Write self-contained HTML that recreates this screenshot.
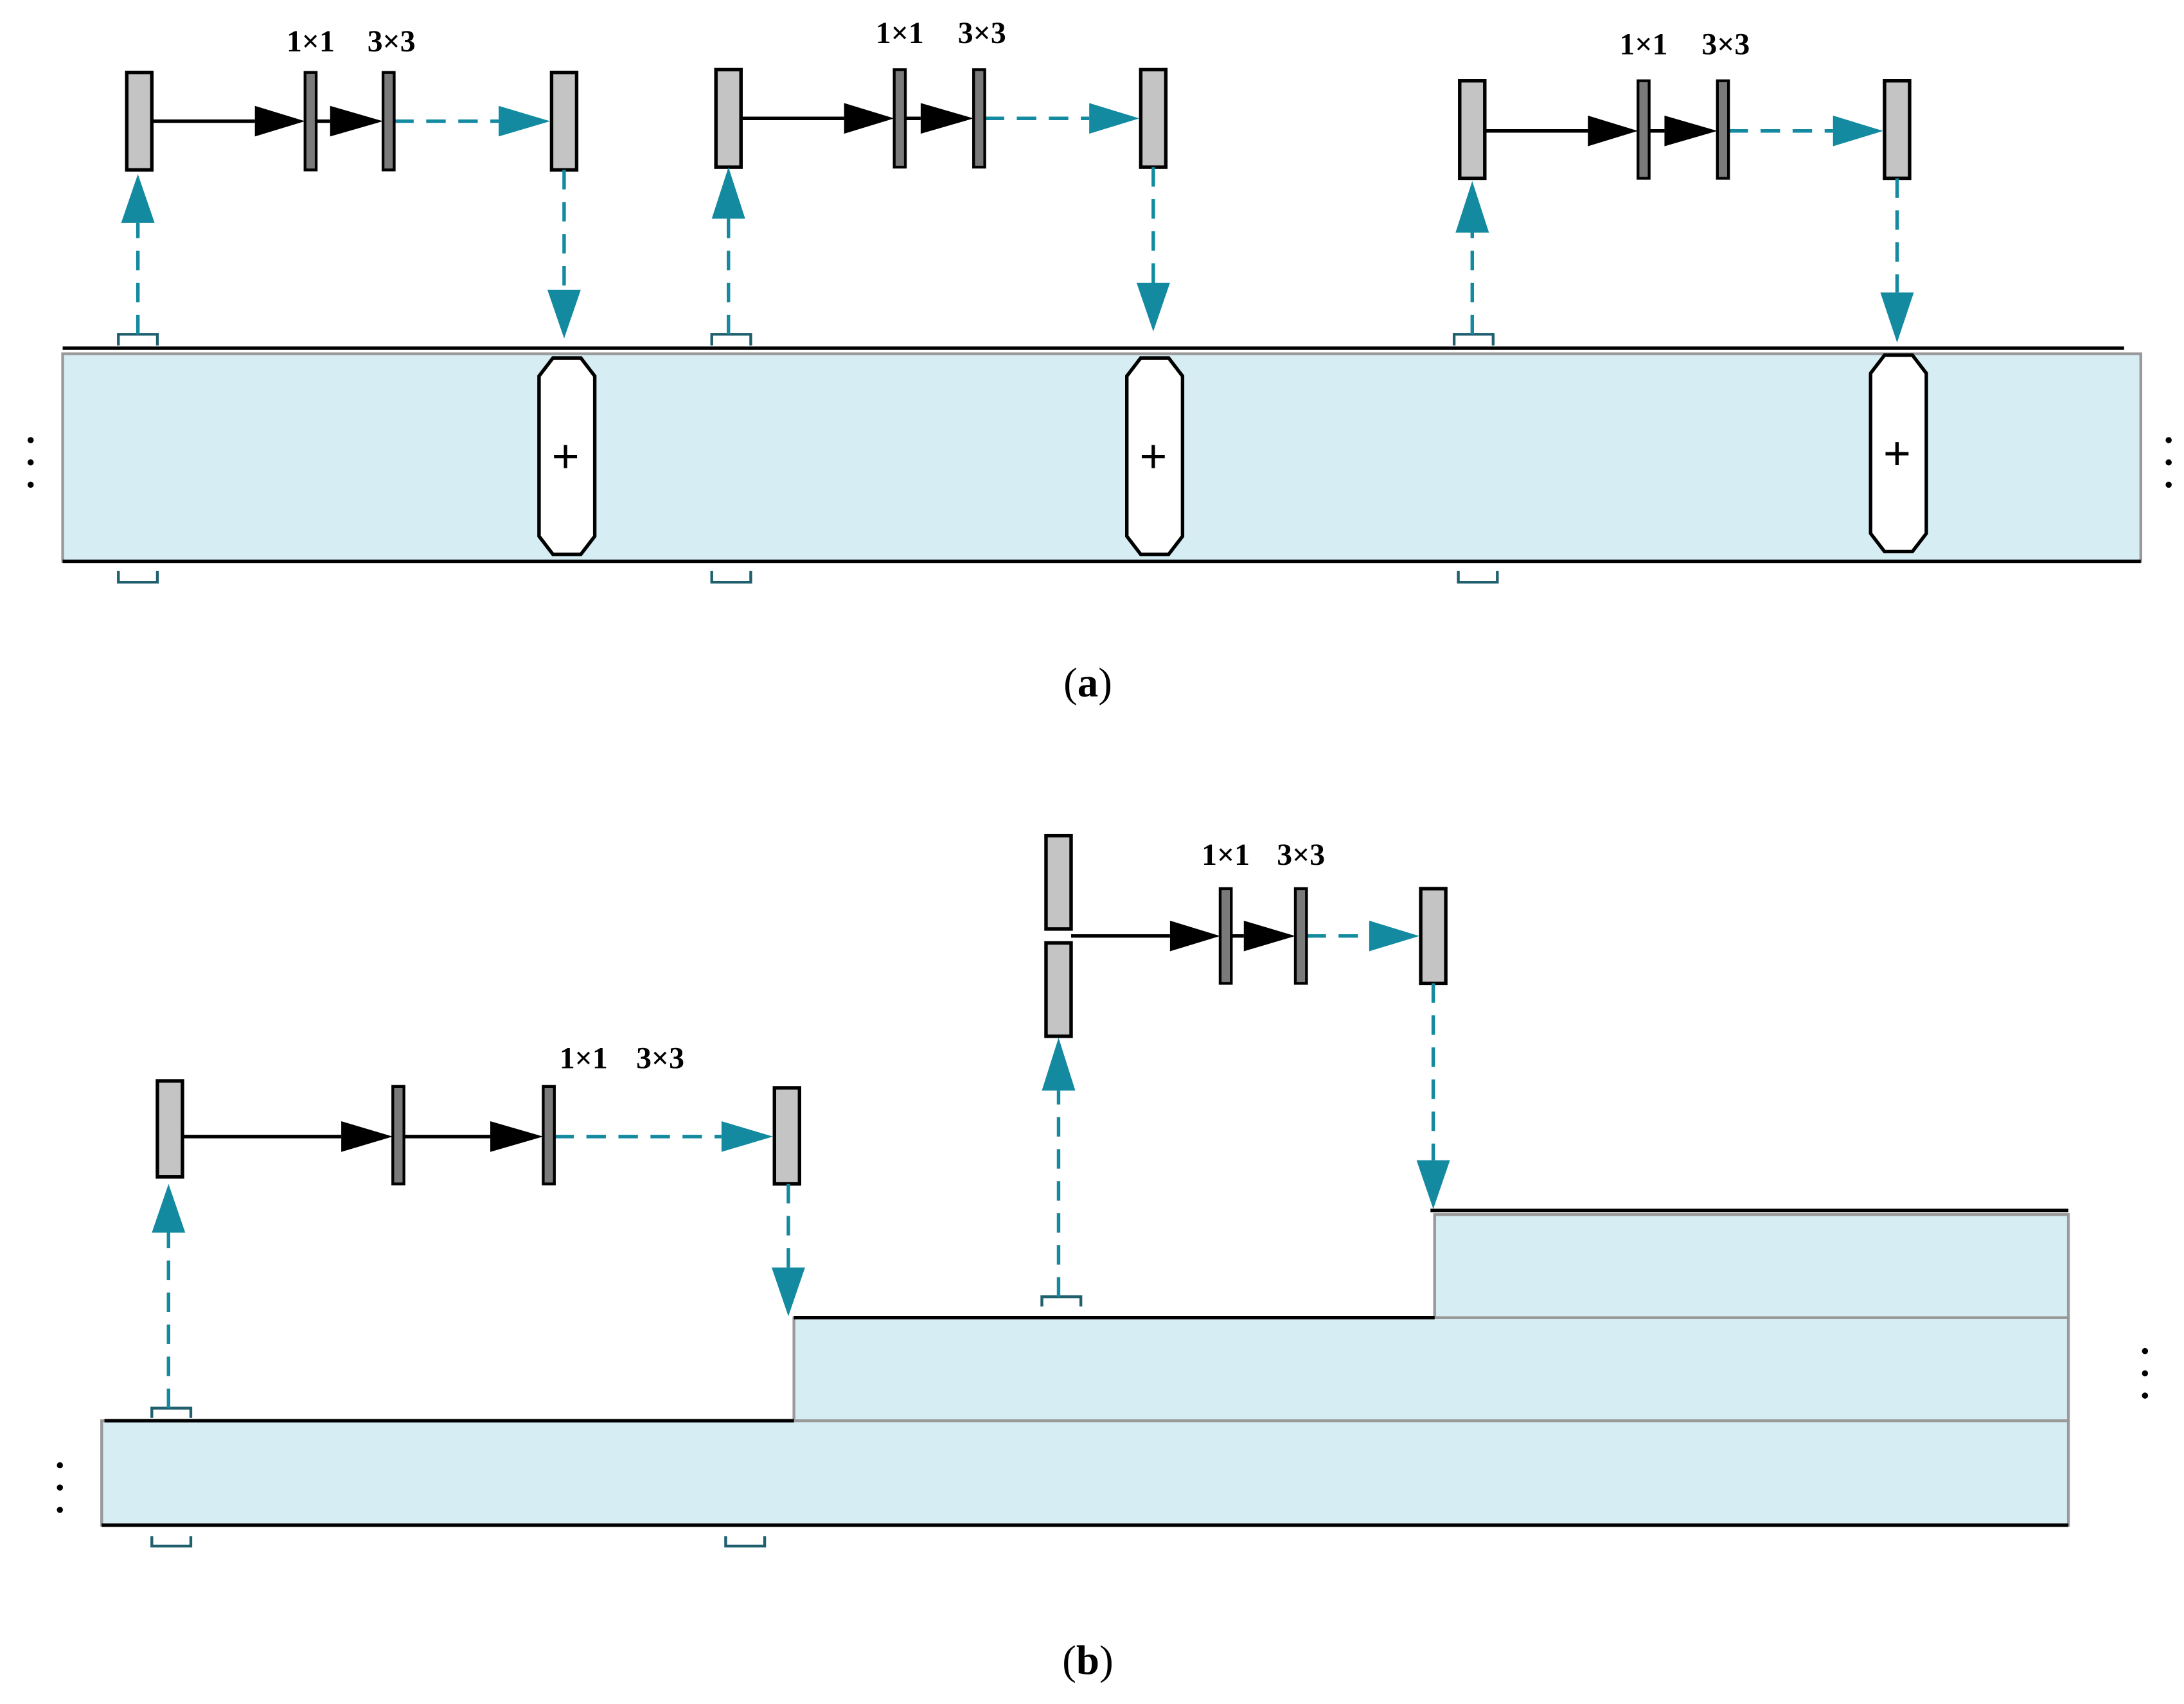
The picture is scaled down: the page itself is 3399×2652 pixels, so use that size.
<!DOCTYPE html>
<html><head><meta charset="utf-8"><style>html,body{margin:0;padding:0;background:#fff}svg{display:block}</style></head><body>
<svg width="3399" height="2652" viewBox="0 0 1568 1223.4" xmlns="http://www.w3.org/2000/svg" font-family="Liberation Serif, serif">
<style>
.g{fill:#c4c4c4;stroke:#000;stroke-width:2.5}
.b{fill:#7a7a7a;stroke:#000;stroke-width:2}
.t{stroke:#138aa0;stroke-width:2.5;stroke-dasharray:14,9;fill:none}
.th{fill:#138aa0}
.k{stroke:#000;stroke-width:2.5}
.bk{fill:#000}
.lab{font-size:22px;font-weight:bold}
.br{fill:none;stroke:#1f5f6e;stroke-width:2}
.pl{font-size:34px;font-family:"Liberation Sans",sans-serif}
</style>

<rect x="45" y="254" width="1492" height="149" fill="#d5edf3" stroke="#999" stroke-width="2"/>
<line x1="45" y1="250" x2="1525" y2="250" class="k"/>
<line x1="45" y1="403" x2="1537" y2="403" class="k"/>
<g>
<circle cx="22" cy="316" r="2.2"/><circle cx="22" cy="332" r="2.2"/><circle cx="22" cy="348" r="2.2"/>
<circle cx="1557" cy="316" r="2.2"/><circle cx="1557" cy="332" r="2.2"/><circle cx="1557" cy="348" r="2.2"/>
<circle cx="43" cy="1052" r="2.2"/><circle cx="43" cy="1068" r="2.2"/><circle cx="43" cy="1084" r="2.2"/>
<circle cx="1540" cy="970" r="2.2"/><circle cx="1540" cy="986" r="2.2"/><circle cx="1540" cy="1002" r="2.2"/>
</g>
<path class="br" d="M85,248 V240 H113 V248 M511,248 V240 H539 V248 M1044,248 V240 H1072 V248"/>
<path class="br" d="M85,410 V418 H113 V410 M511,410 V418 H539 V410 M1047,410 V418 H1075 V410"/>
<g fill="#fff" stroke="#000" stroke-width="2.5">
<path d="M397,257 H417 L427,270 V385 L417,398 H397 L387,385 V270 Z"/>
<path d="M819,257 H839 L849,270 V385 L839,398 H819 L809,385 V270 Z"/>
<path d="M1353,255 H1373 L1383,268 V383 L1373,396 H1353 L1343,383 V268 Z"/>
</g>
<g text-anchor="middle">
<text x="406" y="339" class="pl">+</text><text x="828" y="339" class="pl">+</text><text x="1362" y="337" class="pl">+</text>
</g>

<g>
<line x1="109" y1="87" x2="183" y2="87" class="k"/><path class="bk" d="M183,76 L219,87 L183,98Z"/>
<line x1="227" y1="87" x2="237" y2="87" class="k"/><path class="bk" d="M237,76 L275,87 L237,98Z"/>
<line x1="283" y1="87" x2="358" y2="87" class="t"/><path class="th" d="M358,76 L395,87 L358,98Z"/>
<rect x="91" y="52" width="18" height="70" class="g"/>
<rect x="219" y="52" width="8" height="70" class="b"/>
<rect x="275" y="52" width="8" height="70" class="b"/>
<rect x="396" y="52" width="18" height="70" class="g"/>
<text x="223" y="37" class="lab" text-anchor="middle">1×1</text><text x="281" y="37" class="lab" text-anchor="middle">3×3</text>
<line x1="99" y1="240" x2="99" y2="160" class="t"/><path class="th" d="M87,160 L99,125 L111,160Z"/>
<line x1="405" y1="122" x2="405" y2="208" class="t"/><path class="th" d="M393,208 L405,243 L417,208Z"/>
</g>
<g>
<line x1="532" y1="85" x2="606" y2="85" class="k"/><path class="bk" d="M606,74 L642,85 L606,96Z"/>
<line x1="650" y1="85" x2="661" y2="85" class="k"/><path class="bk" d="M661,74 L699,85 L661,96Z"/>
<line x1="707" y1="85" x2="782" y2="85" class="t"/><path class="th" d="M782,74 L818,85 L782,96Z"/>
<rect x="514" y="50" width="18" height="70" class="g"/>
<rect x="642" y="50" width="8" height="70" class="b"/>
<rect x="699" y="50" width="8" height="70" class="b"/>
<rect x="819" y="50" width="18" height="70" class="g"/>
<text x="646" y="31" class="lab" text-anchor="middle">1×1</text><text x="705" y="31" class="lab" text-anchor="middle">3×3</text>
<line x1="523" y1="240" x2="523" y2="157" class="t"/><path class="th" d="M511,157 L523,120 L535,157Z"/>
<line x1="828" y1="120" x2="828" y2="203" class="t"/><path class="th" d="M816,203 L828,238 L840,203Z"/>
</g>
<g>
<line x1="1066" y1="94" x2="1140" y2="94" class="k"/><path class="bk" d="M1140,83 L1176,94 L1140,105Z"/>
<line x1="1184" y1="94" x2="1195" y2="94" class="k"/><path class="bk" d="M1195,83 L1233,94 L1195,105Z"/>
<line x1="1241" y1="94" x2="1316" y2="94" class="t"/><path class="th" d="M1316,83 L1352,94 L1316,105Z"/>
<rect x="1048" y="58" width="18" height="70" class="g"/>
<rect x="1176" y="58" width="8" height="70" class="b"/>
<rect x="1233" y="58" width="8" height="70" class="b"/>
<rect x="1353" y="58" width="18" height="70" class="g"/>
<text x="1180" y="39" class="lab" text-anchor="middle">1×1</text><text x="1239" y="39" class="lab" text-anchor="middle">3×3</text>
<line x1="1057" y1="240" x2="1057" y2="167" class="t"/><path class="th" d="M1045,167 L1057,130 L1069,167Z"/>
<line x1="1362" y1="128" x2="1362" y2="210" class="t"/><path class="th" d="M1350,210 L1362,246 L1374,210Z"/>
</g>

<text x="781" y="500" font-size="30" text-anchor="middle">(<tspan font-weight="bold">a</tspan>)</text>

<rect x="73" y="1020" width="1412" height="75" fill="#d5edf3" stroke="#999" stroke-width="2"/>
<rect x="570" y="946" width="915" height="74" fill="#d5edf3" stroke="#999" stroke-width="2"/>
<rect x="1030" y="872" width="455" height="74" fill="#d5edf3" stroke="#999" stroke-width="2"/>
<line x1="75" y1="1020" x2="570" y2="1020" class="k"/>
<line x1="73" y1="1095" x2="1485" y2="1095" class="k"/>
<line x1="570" y1="946" x2="1030" y2="946" class="k"/>
<line x1="1027" y1="869" x2="1485" y2="869" class="k"/>
<path class="br" d="M109,1018 V1011 H137 V1018 M748,938 V931 H776 V938"/>
<path class="br" d="M109,1103 V1110 H137 V1103 M521,1103 V1110 H549 V1103"/>

<g>
<line x1="131" y1="816" x2="245" y2="816" class="k"/><path class="bk" d="M245,805 L282,816 L245,827Z"/>
<line x1="290" y1="816" x2="352" y2="816" class="k"/><path class="bk" d="M352,805 L390,816 L352,827Z"/>
<line x1="398" y1="816" x2="518" y2="816" class="t"/><path class="th" d="M518,805 L555,816 L518,827Z"/>
<rect x="113" y="776" width="18" height="69" class="g"/>
<rect x="282" y="780" width="8" height="70" class="b"/>
<rect x="390" y="780" width="8" height="70" class="b"/>
<rect x="556" y="781" width="18" height="69" class="g"/>
<text x="419" y="767" class="lab" text-anchor="middle">1×1</text><text x="474" y="767" class="lab" text-anchor="middle">3×3</text>
<line x1="121" y1="1011" x2="121" y2="885" class="t"/><path class="th" d="M109,885 L121,850 L133,885Z"/>
<line x1="566" y1="850" x2="566" y2="910" class="t"/><path class="th" d="M554,910 L566,945 L578,910Z"/>
</g>
<g>
<line x1="769" y1="672" x2="840" y2="672" class="k"/><path class="bk" d="M840,661 L876,672 L840,683Z"/>
<line x1="884" y1="672" x2="893" y2="672" class="k"/><path class="bk" d="M893,661 L930,672 L893,683Z"/>
<line x1="938" y1="672" x2="983" y2="672" class="t"/><path class="th" d="M983,661 L1019,672 L983,683Z"/>
<rect x="751" y="600" width="18" height="67" class="g"/>
<rect x="751" y="677" width="18" height="67" class="g"/>
<rect x="876" y="638" width="8" height="68" class="b"/>
<rect x="930" y="638" width="8" height="68" class="b"/>
<rect x="1020" y="638" width="18" height="68" class="g"/>
<text x="880" y="621" class="lab" text-anchor="middle">1×1</text><text x="934" y="621" class="lab" text-anchor="middle">3×3</text>
<line x1="760" y1="931" x2="760" y2="783" class="t"/><path class="th" d="M748,783 L760,745 L772,783Z"/>
<line x1="1029" y1="706" x2="1029" y2="833" class="t"/><path class="th" d="M1017,833 L1029,868 L1041,833Z"/>
</g>

<text x="781" y="1202" font-size="30" text-anchor="middle">(<tspan font-weight="bold">b</tspan>)</text>
</svg>
</body></html>
